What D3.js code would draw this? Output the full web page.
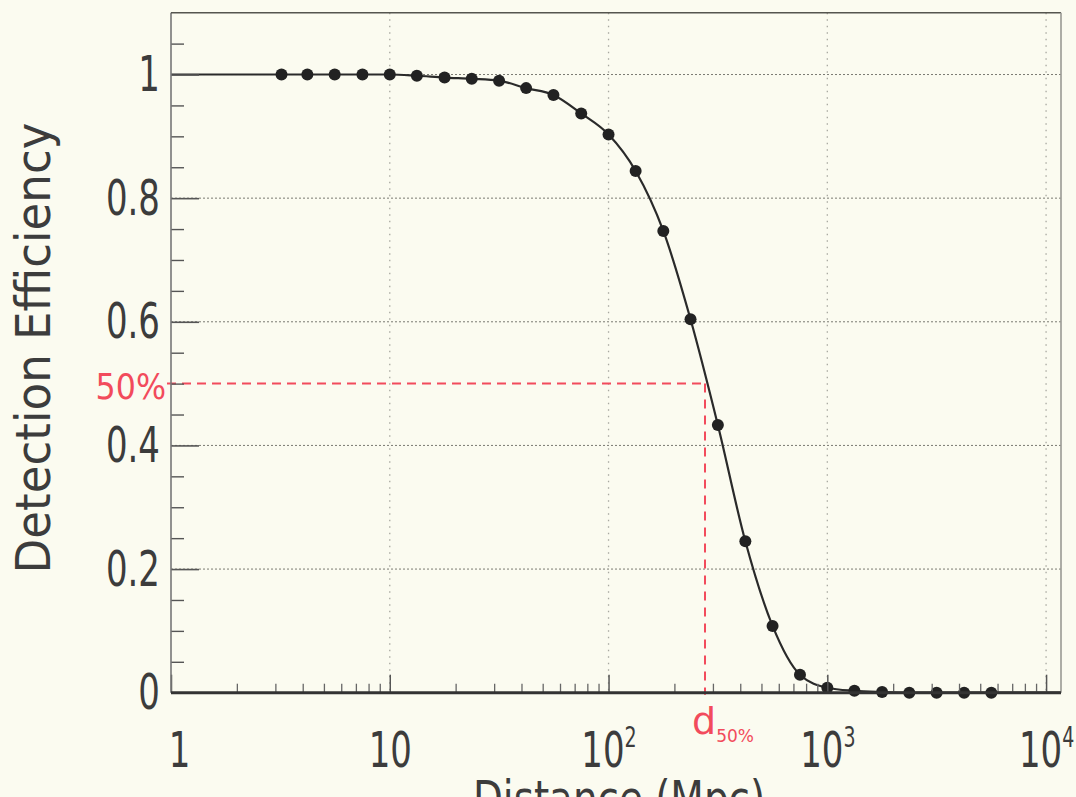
<!DOCTYPE html>
<html>
<head>
<meta charset="utf-8">
<script src="https://cdn.jsdelivr.net/npm/d3@7"></script>
<style>
  html, body { margin: 0; padding: 0; background: #fbfbf0; overflow: hidden; }
  svg { display: block; font-family: "DejaVu Sans", sans-serif; }
</style>
</head>
<body>
<div id="chart"></div>
<script>
// measured points (distance in Mpc, detection efficiency)
const distance = [3.2, 4.2, 5.6, 7.5, 10, 13.3, 17.8, 23.7, 31.6, 42, 56, 75, 100, 133, 178,
                  237, 316, 422, 562, 750, 1000, 1330, 1780, 2370, 3160, 4220, 5620];
const efficiency = [1.0, 1.0, 1.0, 1.0, 1.0, 0.998, 0.995, 0.993, 0.990, 0.978, 0.967, 0.937, 0.903, 0.844, 0.747,
                    0.604, 0.433, 0.245, 0.108, 0.029, 0.008, 0.003, 0.001, 0, 0, 0, 0];

// ends of the fitted curve, outside the measured range
const fitStart = [1, 1.0];
const fitEnd = [11700, 0];

// 50% point
const level50 = 0.5;
const d50 = 276;

const xTickValues = [1, 10, 100, 1000, 10000];
const xTickBase = ["1", "10", "10", "10", "10"];
const xTickExp = ["", "", "2", "3", "4"];
const yTickValues = [0, 0.2, 0.4, 0.6, 0.8, 1];
const yTickLabels = ["0", "0.2", "0.4", "0.6", "0.8", "1"];

const width = 1076;
const height = 797;
const textColor = "#3c3c3c";
const red = "#f24b5c";

const svg = d3.select("#chart")
    .append("svg")
        .attr("width", width)
        .attr("height", height);

svg.append("rect")
    .attr("width", width)
    .attr("height", height)
    .attr("fill", "#fbfbf0");

const x = d3.scaleLog().domain([1, 11700]).range([171, 1061]);
const y = d3.scaleLinear().domain([0, 1.1]).range([692.7, 12.7]);

// grid
svg.append("g")
    .selectAll("line")
    .data(yTickValues.filter(d => d > 0))
    .join("line")
        .attr("x1", x.range()[0])
        .attr("x2", x.range()[1])
        .attr("y1", d => y(d))
        .attr("y2", d => y(d))
        .attr("stroke", "#7a7a72")
        .attr("stroke-width", 1)
        .attr("stroke-dasharray", "2,2");

svg.append("g")
    .selectAll("line")
    .data(xTickValues.filter(d => d > 1))
    .join("line")
        .attr("x1", d => x(d))
        .attr("x2", d => x(d))
        .attr("y1", y.range()[1])
        .attr("y2", y.range()[0])
        .attr("stroke", "#a8a8a0")
        .attr("stroke-width", 1.3)
        .attr("stroke-dasharray", "1.5,5");

// red 50% guides
svg.append("line")
    .attr("x1", 167).attr("x2", x(d50))
    .attr("y1", y(level50)).attr("y2", y(level50))
    .attr("stroke", red)
    .attr("stroke-width", 2)
    .attr("stroke-dasharray", "9,6");

svg.append("line")
    .attr("x1", x(d50)).attr("x2", x(d50))
    .attr("y1", y(level50)).attr("y2", y(0) + 2)
    .attr("stroke", red)
    .attr("stroke-width", 2)
    .attr("stroke-dasharray", "9,7");

// fitted curve
const curvePts = [fitStart].concat(distance.map((d, i) => [d, efficiency[i]]), [fitEnd]);
const line = d3.line()
    .x(d => x(d[0]))
    .y(d => y(d[1]))
    .curve(d3.curveMonotoneX);

svg.append("path")
    .datum(curvePts)
    .attr("fill", "none")
    .attr("stroke", "#2a2a2a")
    .attr("stroke-width", 2.2)
    .attr("d", line);

svg.append("g")
    .selectAll("circle")
    .data(distance)
    .join("circle")
        .attr("cx", d => x(d))
        .attr("cy", (d, i) => y(efficiency[i]))
        .attr("r", 6)
        .attr("fill", "#222");

// y axis
const yScaleX = 0.68;
const yAxis = svg.append("g")
    .attr("transform", `translate(${x.range()[0]},0)`)
    .call(d3.axisLeft(y)
        .tickValues(yTickValues)
        .tickSize(-28)
        .tickPadding(11)
        .tickFormat((d, i) => yTickLabels[i]));
yAxis.select(".domain").remove();
yAxis.selectAll(".tick line").attr("stroke", "#555").attr("stroke-width", 1.6);
yAxis.selectAll(".tick text")
    .attr("fill", textColor)
    .attr("font-size", 50)
    .attr("font-family", "DejaVu Sans")
    .attr("x", -11 / yScaleX)
    .attr("transform", `scale(${yScaleX},1)`);

const yMinor = d3.range(0, 1.1, 0.05).filter(d => Math.abs(d * 5 - Math.round(d * 5)) > 1e-6);
const yAxisMinor = svg.append("g")
    .attr("transform", `translate(${x.range()[0]},0)`)
    .call(d3.axisLeft(y).tickValues(yMinor).tickSize(-13).tickFormat(""));
yAxisMinor.select(".domain").remove();
yAxisMinor.selectAll(".tick line").attr("stroke", "#555").attr("stroke-width", 1.4);

// x axis
const xScaleX = 0.68;
const xAxis = svg.append("g")
    .attr("transform", `translate(0,${y(0)})`)
    .call(d3.axisBottom(x)
        .tickValues(xTickValues)
        .tickSize(-18)
        .tickFormat((d, i) => xTickBase[i]));
xAxis.select(".domain").remove();
xAxis.selectAll(".tick line").attr("stroke", "#555").attr("stroke-width", 1.5);
xAxis.selectAll(".tick text")
    .attr("fill", textColor)
    .attr("font-size", 50)
    .attr("font-family", "DejaVu Sans")
    .attr("y", 74)
    .attr("dy", 0)
    .attr("x", (d, i) => i === 0 ? 8 / xScaleX : 0)
    .attr("transform", `scale(${xScaleX},1)`)
    .each(function(d, i) {
        if (xTickExp[i]) {
            d3.select(this).append("tspan")
                .attr("font-size", 28)
                .attr("dy", -20)
                .text(xTickExp[i]);
        }
    });

const xMinor = x.ticks().filter(d => Math.abs(Math.log10(d) - Math.round(Math.log10(d))) > 1e-6);
const xAxisMinor = svg.append("g")
    .attr("transform", `translate(0,${y(0)})`)
    .call(d3.axisBottom(x).tickValues(xMinor).tickSize(-9).tickFormat(""));
xAxisMinor.select(".domain").remove();
xAxisMinor.selectAll(".tick line").attr("stroke", "#666").attr("stroke-width", 1.3);

// frame
svg.append("line")
    .attr("x1", x.range()[0]).attr("x2", x.range()[0])
    .attr("y1", y.range()[1]).attr("y2", y.range()[0])
    .attr("stroke", "#777").attr("stroke-width", 1.6);
svg.append("line")
    .attr("x1", x.range()[0]).attr("x2", x.range()[1])
    .attr("y1", y.range()[1]).attr("y2", y.range()[1])
    .attr("stroke", "#55554f").attr("stroke-width", 1.6);
svg.append("line")
    .attr("x1", x.range()[1]).attr("x2", x.range()[1])
    .attr("y1", y.range()[1]).attr("y2", y.range()[0])
    .attr("stroke", "#9a9a94").attr("stroke-width", 1.6);
svg.append("line")
    .attr("x1", x.range()[0]).attr("x2", x.range()[1])
    .attr("y1", y(0)).attr("y2", y(0))
    .attr("stroke", "#333").attr("stroke-width", 3);

// titles
svg.append("text")
    .attr("transform", `translate(50,348) rotate(-90) scale(0.94,1)`)
    .attr("text-anchor", "middle")
    .attr("font-size", 48)
    .attr("fill", textColor)
    .text("Detection Efficiency");

svg.append("text")
    .attr("transform", `translate(619,815) scale(0.81,1)`)
    .attr("text-anchor", "middle")
    .attr("font-size", 48)
    .attr("fill", textColor)
    .text("Distance (Mpc)");

// 50% annotations
svg.append("text")
    .attr("transform", `translate(166,399) scale(0.88,1)`)
    .attr("text-anchor", "end")
    .attr("font-size", 36)
    .attr("fill", red)
    .text("50%");

const dLabel = svg.append("text")
    .attr("transform", `translate(692,734)`)
    .attr("font-size", 38)
    .attr("fill", red);
dLabel.append("tspan").text("d");
dLabel.append("tspan")
    .attr("font-size", 17)
    .attr("dy", 8)
    .text("50%");
</script>
</body>
</html>
